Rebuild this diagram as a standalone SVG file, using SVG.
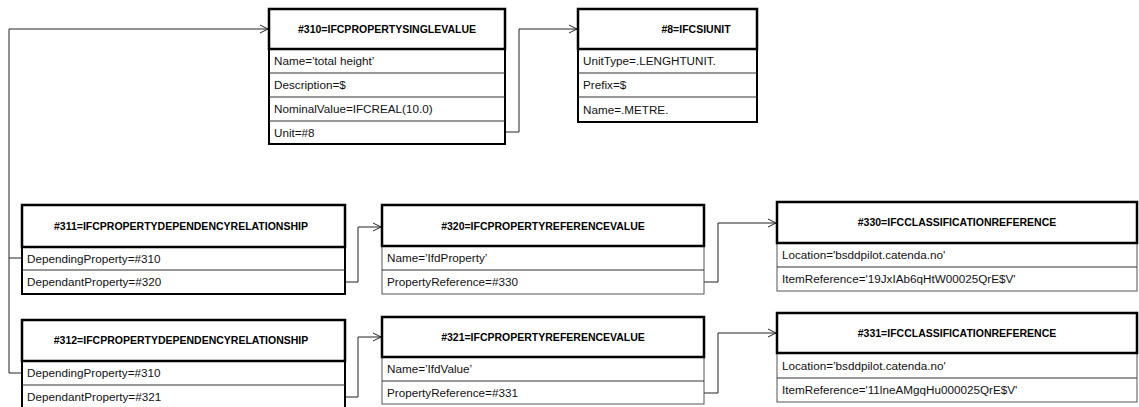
<svg xmlns="http://www.w3.org/2000/svg" width="1139" height="407" viewBox="0 0 1139 407">
<style>
.rows{fill:#fff;stroke:#000;stroke-width:2}
.rowsg{fill:#fff;stroke:#555;stroke-width:1}
.hdr{fill:#fff;stroke:#000;stroke-width:2.5}
.sep{stroke:#333;stroke-width:1}
.h{font-family:"Liberation Sans",Arial,sans-serif;font-weight:bold;font-size:10.5px;fill:#000;text-anchor:middle}
.t{font-family:"Liberation Sans",Arial,sans-serif;font-size:11.7px;fill:#111}
.c{fill:none;stroke:#222;stroke-width:1}
</style>
<defs>
<marker id="arr" markerUnits="userSpaceOnUse" markerWidth="12" markerHeight="12" refX="10" refY="6" orient="auto">
<path d="M2,2 L10,6 L2,10" fill="none" stroke="#222" stroke-width="1"/>
</marker>
</defs>
<g id="connectors">
<path class="c" d="M22,373 H9 V29 H268" marker-end="url(#arr)"/>
<path class="c" d="M22,258 H9"/>
<path class="c" d="M505,132 H519 V29 H577" marker-end="url(#arr)"/>
<path class="c" d="M345,282 H358 V227 H381" marker-end="url(#arr)"/>
<path class="c" d="M704,282 H718 V223 H776" marker-end="url(#arr)"/>
<path class="c" d="M345,397 H358 V337 H381" marker-end="url(#arr)"/>
<path class="c" d="M704,393 H718 V333 H776" marker-end="url(#arr)"/>
</g>
<g id="n310">
<rect class="rows" x="269" y="9" width="236" height="135"/>
<line class="sep" x1="269" y1="73" x2="505" y2="73"/>
<line class="sep" x1="269" y1="97" x2="505" y2="97"/>
<line class="sep" x1="269" y1="121" x2="505" y2="121"/>
<rect class="hdr" x="269" y="9" width="236" height="40"/>
<text class="h" x="387" y="33">#310=IFCPROPERTYSINGLEVALUE</text>
<text class="t" x="274" y="65">Name=’total height’</text>
<text class="t" x="274" y="89">Description=$</text>
<text class="t" x="274" y="113">NominalValue=IFCREAL(10.0)</text>
<text class="t" x="274" y="137">Unit=#8</text>
</g>
<g id="n8">
<rect class="rows" x="578" y="9" width="179" height="113"/>
<line class="sep" x1="578" y1="73" x2="757" y2="73"/>
<line class="sep" x1="578" y1="97" x2="757" y2="97"/>
<rect class="hdr" x="578" y="9" width="179" height="40"/>
<text class="h" x="696" y="33">#8=IFCSIUNIT</text>
<text class="t" x="583" y="65">UnitType=.LENGHTUNIT.</text>
<text class="t" x="583" y="89">Prefix=$</text>
<text class="t" x="583" y="114">Name=.METRE.</text>
</g>
<g id="n311">
<rect class="rows" x="22" y="205" width="323" height="89"/>
<line class="sep" x1="22" y1="270" x2="345" y2="270"/>
<rect class="hdr" x="22" y="205" width="323" height="42"/>
<text class="h" x="181" y="230">#311=IFCPROPERTYDEPENDENCYRELATIONSHIP</text>
<text class="t" x="27" y="263">DependingProperty=#310</text>
<text class="t" x="27" y="286">DependantProperty=#320</text>
</g>
<g id="n312">
<rect class="rows" x="22" y="320" width="323" height="90"/>
<line class="sep" x1="22" y1="385" x2="345" y2="385"/>
<rect class="hdr" x="22" y="320" width="323" height="41"/>
<text class="h" x="181" y="344">#312=IFCPROPERTYDEPENDENCYRELATIONSHIP</text>
<text class="t" x="27" y="377">DependingProperty=#310</text>
<text class="t" x="27" y="401">DependantProperty=#321</text>
</g>
<g id="n320">
<rect class="rowsg" x="382" y="205" width="322" height="89"/>
<line class="sep" x1="382" y1="270" x2="704" y2="270"/>
<rect class="hdr" x="382" y="205" width="322" height="41"/>
<text class="h" x="543" y="230">#320=IFCPROPERTYREFERENCEVALUE</text>
<text class="t" x="387" y="262">Name=’IfdProperty’</text>
<text class="t" x="387" y="286">PropertyReference=#330</text>
</g>
<g id="n321">
<rect class="rowsg" x="382" y="317" width="322" height="87"/>
<line class="sep" x1="382" y1="381" x2="704" y2="381"/>
<rect class="hdr" x="382" y="317" width="322" height="40"/>
<text class="h" x="543" y="341">#321=IFCPROPERTYREFERENCEVALUE</text>
<text class="t" x="387" y="373">Name=’IfdValue’</text>
<text class="t" x="387" y="397">PropertyReference=#331</text>
</g>
<g id="n330">
<rect class="rowsg" x="777" y="202" width="360" height="89"/>
<line class="sep" x1="777" y1="267" x2="1137" y2="267"/>
<rect class="hdr" x="777" y="202" width="360" height="41"/>
<text class="h" x="957" y="226">#330=IFCCLASSIFICATIONREFERENCE</text>
<text class="t" x="782" y="259">Location='bsddpilot.catenda.no'</text>
<text class="t" x="782" y="283">ItemReference='19JxIAb6qHtW00025QrE$V'</text>
</g>
<g id="n331">
<rect class="rowsg" x="777" y="313" width="360" height="89"/>
<line class="sep" x1="777" y1="378" x2="1137" y2="378"/>
<rect class="hdr" x="777" y="313" width="360" height="40"/>
<text class="h" x="957" y="337">#331=IFCCLASSIFICATIONREFERENCE</text>
<text class="t" x="782" y="370">Location=’bsddpilot.catenda.no'</text>
<text class="t" x="782" y="394">ItemReference='11lneAMgqHu000025QrE$V'</text>
</g>
</svg>
